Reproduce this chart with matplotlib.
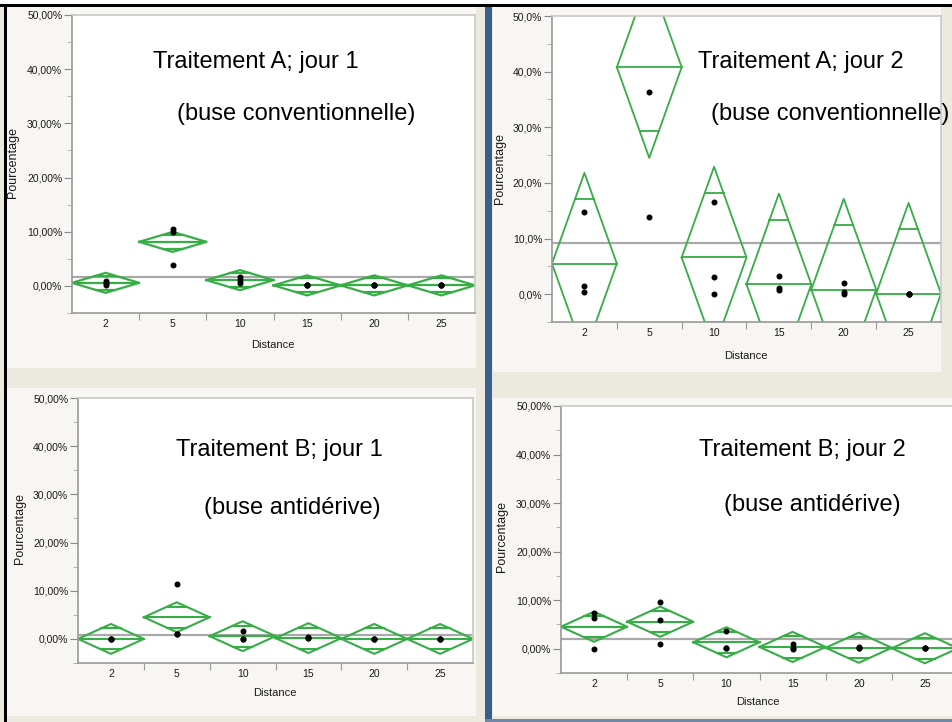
import matplotlib
matplotlib.use("Agg")
import matplotlib.pyplot as plt
import numpy as np
from matplotlib.patches import Rectangle
from matplotlib.ticker import FuncFormatter, MultipleLocator

W, H = 953, 722

distances = ["2", "5", "10", "15", "20", "25"]

# individual samples (%) per distance, three replicates each
a_jour1 = [[0.2, 0.6, 0.9], [10.5, 10.0, 3.9], [0.5, 1.0, 1.7],
           [0.1, 0.1, 0.1], [0.1, 0.1, 0.1], [0.1, 0.1, 0.1]]
a_jour2 = [[14.7, 1.4, 0.4], [72.2, 36.3, 13.9], [16.6, 3.1, 0.1],
           [3.3, 1.2, 0.8], [2.0, 0.4, 0.1], [0.1, 0.1, 0.1]]
b_jour1 = [[0.0, 0.0, 0.0], [11.4, 1.1, 1.0], [1.7, 0.0, 0.0],
           [0.3, 0.1, 0.1], [0.0, 0.0, 0.0], [0.0, 0.0, 0.0]]
b_jour2 = [[7.3, 6.3, 0.0], [9.7, 6.0, 1.0], [3.7, 0.2, 0.1],
           [0.9, 0.2, 0.0], [0.4, 0.1, 0.1], [0.1, 0.1, 0.1]]

# 95% confidence half-width of the mean (pooled), per panel
ci_a1, ci_a2, ci_b1, ci_b2 = 1.85, 16.3, 3.1, 3.1

BEIGE = "#ece9df"
PANEL = "#f7f6f2"
GREEN = "#36ad45"


def fx(x):
    return x / W


def fy(y):
    return 1 - y / H


def rect(x0, y0, x1, y1, color, z=-5):
    r = Rectangle((fx(x0), fy(y1)), (x1 - x0) / W, (y1 - y0) / H,
                  transform=fig.transFigure, facecolor=color,
                  edgecolor="none", zorder=z)
    fig.add_artist(r)


def means_diamonds(ax, samples, ci, decimals, lw):
    ax.set_facecolor("white")
    ax.set_xlim(0, 6)
    ax.set_ylim(-5, 50)
    means = [np.mean(s) for s in samples]
    grand = np.mean(np.concatenate(samples))
    ax.axhline(grand, color="#a9a9a9", lw=1.6, zorder=1)
    k = 1 - 1 / np.sqrt(2)
    for i, (s, m) in enumerate(zip(samples, means)):
        xc = i + 0.5
        ax.plot([xc - 0.5, xc, xc + 0.5, xc, xc - 0.5],
                [m, m + ci, m, m - ci, m], color=GREEN, lw=lw, zorder=2)
        ax.plot([xc - 0.5, xc + 0.5], [m, m], color=GREEN, lw=lw, zorder=2)
        for sgn in (1, -1):
            yo = m + sgn * ci / np.sqrt(2)
            ax.plot([xc - 0.5 * k, xc + 0.5 * k], [yo, yo], color=GREEN,
                    lw=lw, zorder=2)
        ax.plot([xc] * len(s), s, "o", color="black", ms=3.3, zorder=3,
                clip_on=True)

    ax.set_yticks([0, 10, 20, 30, 40, 50])
    ax.yaxis.set_minor_locator(MultipleLocator(5))
    fmt = "{:.%df}%%" % decimals
    ax.yaxis.set_major_formatter(
        FuncFormatter(lambda v, p: fmt.format(v).replace(".", ",")))
    ax.set_xticks([1, 2, 3, 4, 5])
    ax.set_xticklabels([])
    ax.set_xticks([0.5, 1.5, 2.5, 3.5, 4.5, 5.5], distances, minor=True)
    ax.tick_params(axis="y", which="major", length=6, pad=1, labelsize=7.5,
                   color="#888888", labelcolor="#1a1a1a")
    ax.tick_params(axis="y", which="minor", length=3.5, color="#aaaaaa")
    ax.tick_params(axis="x", which="major", length=5, color="#999999")
    ax.tick_params(axis="x", which="minor", length=0, pad=4, labelsize=7.5,
                   labelcolor="#1a1a1a")
    for lab in ax.get_xticklabels(minor=True) + ax.get_yticklabels():
        lab.set_family("Liberation Sans")
    for side in ("left", "bottom"):
        ax.spines[side].set_color("#999999")
        ax.spines[side].set_linewidth(1.2)
    for side in ("top", "right"):
        ax.spines[side].set_color("#c8c8c8")
        ax.spines[side].set_linewidth(1.2)


fig = plt.figure(figsize=(W / 100, H / 100), dpi=100, facecolor="white")

# window chrome
rect(0, 4, W, H, BEIGE, z=-10)
rect(7, 7, 476, 368, PANEL)
rect(7, 388, 476, 716, PANEL)
rect(493, 7, 941, 372, PANEL)
rect(493, 398, W, 716, PANEL)
rect(485, 7, 492, H, "#3b5e8c")
rect(485, 719, W, H, "#6f86a6")
rect(0, 4, W, 7, "black", z=-4)
rect(4, 4, 7, H, "black", z=-4)

panels = [
    ((72, 15, 475, 313), a_jour1, ci_a1, 2, 1.6),
    ((552, 16, 941, 322), a_jour2, ci_a2, 1, 1.3),
    ((78, 398, 473, 663), b_jour1, ci_b1, 2, 1.5),
    ((561, 406, 958, 673), b_jour2, ci_b2, 2, 1.5),
]
for (x0, y0, x1, y1), data, ci, dec, lw in panels:
    ax = fig.add_axes([fx(x0), fy(y1), (x1 - x0) / W, (y1 - y0) / H])
    means_diamonds(ax, data, ci, dec, lw)

# axis titles
lab = dict(family="Liberation Sans", color="#1a1a1a")
for x, y in [(273, 345), (746, 356), (275, 693), (758, 702)]:
    fig.text(fx(x), fy(y), "Distance", ha="center", va="center",
             fontsize=8, **lab)
for x, y in [(13, 163), (500, 168), (20, 528), (502, 537)]:
    fig.text(fx(x), fy(y), "Pourcentage", ha="center", va="center",
             rotation=90, fontsize=9, **lab)

# panel captions
cap = dict(family="Liberation Sans", fontsize=17, color="black",
           ha="left", va="baseline", zorder=10)
fig.text(fx(153), fy(68), "Traitement A; jour 1", **cap)
fig.text(fx(177), fy(120), "(buse conventionnelle)", **cap)
fig.text(fx(698), fy(68), "Traitement A; jour 2", **cap)
fig.text(fx(711), fy(120), "(buse conventionnelle)", **cap)
fig.text(fx(176), fy(456), "Traitement B; jour 1", **cap)
fig.text(fx(204), fy(514), "(buse antidérive)", **cap)
fig.text(fx(699), fy(456), "Traitement B; jour 2", **cap)
fig.text(fx(724), fy(511), "(buse antidérive)", **cap)

fig.savefig("out.png", dpi=100)
